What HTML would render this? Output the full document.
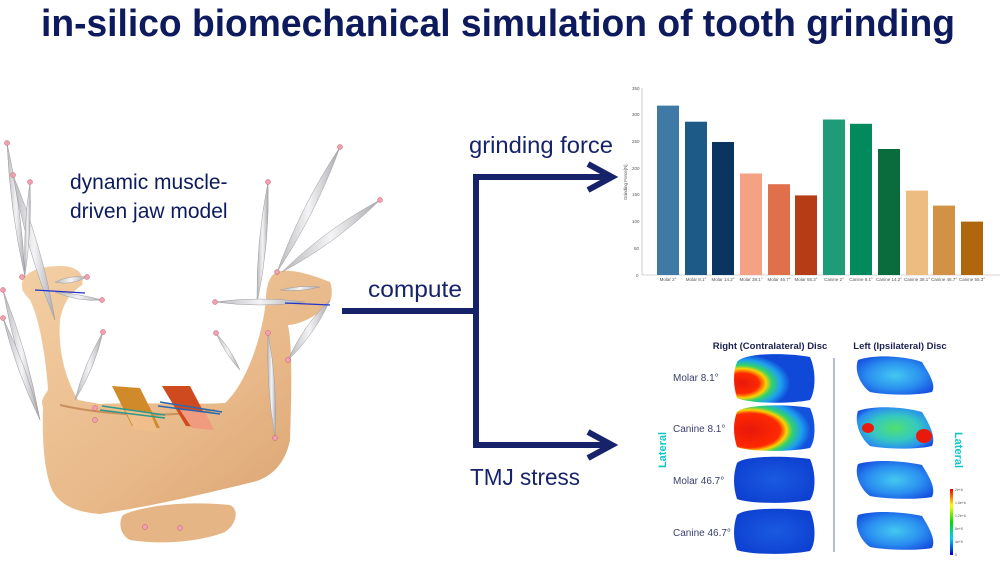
<!DOCTYPE html>
<html><head><meta charset="utf-8"><style>
html,body{margin:0;padding:0;background:#fff;}
svg{display:block;}
text{font-family:"Liberation Sans","DejaVu Sans",sans-serif;}
</style></head><body>
<svg width="1000" height="563" viewBox="0 0 1000 563" xmlns="http://www.w3.org/2000/svg">
<defs>
<linearGradient id="bone" x1="0" y1="0" x2="1" y2="1">
<stop offset="0" stop-color="#f3cfa4"/><stop offset="0.6" stop-color="#e8b888"/><stop offset="1" stop-color="#d9a06e"/></linearGradient>
<linearGradient id="spin" x1="0" y1="0" x2="1" y2="0">
<stop offset="0" stop-color="#b8b8bc"/><stop offset="0.5" stop-color="#f4f4f6"/><stop offset="1" stop-color="#a9a9ae"/></linearGradient>
<radialGradient id="hotR" cx="0.1" cy="0.6" r="0.6"><stop offset="0" stop-color="#e8170c"/><stop offset="0.35" stop-color="#ff2a00"/><stop offset="0.5" stop-color="#ffd000"/><stop offset="0.62" stop-color="#2fd36a"/><stop offset="0.8" stop-color="#1fa0f0"/><stop offset="1" stop-color="#1049d8"/></radialGradient>
<radialGradient id="hotR2" cx="0.2" cy="0.55" r="0.75"><stop offset="0" stop-color="#e8170c"/><stop offset="0.5" stop-color="#ff2a00"/><stop offset="0.6" stop-color="#ffd000"/><stop offset="0.7" stop-color="#2fd36a"/><stop offset="0.85" stop-color="#1fa0f0"/><stop offset="1" stop-color="#1352dc"/></radialGradient>
<radialGradient id="cool" cx="0.5" cy="0.5" r="0.6"><stop offset="0" stop-color="#1a5ae0"/><stop offset="1" stop-color="#0d3fd0"/></radialGradient>
<radialGradient id="mid" cx="0.5" cy="0.5" r="0.6"><stop offset="0" stop-color="#44c8f0"/><stop offset="0.6" stop-color="#2a8ef0"/><stop offset="1" stop-color="#1652e0"/></radialGradient>
<radialGradient id="midG" cx="0.5" cy="0.5" r="0.6"><stop offset="0" stop-color="#50e070"/><stop offset="0.5" stop-color="#35c8c0"/><stop offset="0.85" stop-color="#2a8ef0"/><stop offset="1" stop-color="#1652e0"/></radialGradient>
<linearGradient id="cbar" x1="0" y1="0" x2="0" y2="1"><stop offset="0" stop-color="#e00"/><stop offset="0.25" stop-color="#ff0"/><stop offset="0.5" stop-color="#0d0"/><stop offset="0.75" stop-color="#0cf"/><stop offset="1" stop-color="#00c"/></linearGradient>
</defs>

<text x="41" y="36" font-size="38" font-weight="bold" fill="#0d1a5e" textLength="914" lengthAdjust="spacingAndGlyphs">in-silico biomechanical simulation of tooth grinding</text>

<g>
<path d="M22,287 C20,275 35,266 60,266 C75,266 85,272 82,285 C72,292 64,300 60,320 C58,345 63,375 78,400 L100,404 C140,402 190,405 225,403 C245,385 262,340 266,300 C266,285 270,275 277,272 C290,268 310,274 330,282 C333,290 332,300 328,305 C318,315 300,325 288,325 C292,345 292,380 290,440 C285,465 270,478 253,482 C220,490 160,505 100,514 C75,512 60,505 52,490 C44,470 42,440 43,407 C40,400 45,395 48,390 C46,360 40,320 30,300 C26,295 22,292 22,287 Z" fill="url(#bone)"/>
<path d="M123,515 C140,507 180,500 230,505 C240,510 236,525 225,532 C200,542 160,545 130,540 C120,535 118,522 123,515 Z" fill="#e6b585"/>
<path d="M60,405 C90,412 150,420 215,410" stroke="#c9905e" stroke-width="2" fill="none"/>
</g>
<g fill="url(#spin)" stroke="#9c9ca0" stroke-width="0.5">
<path d="M7,143 Q22,209 25,277 Q10,211 7,143Z"/>
<path d="M13,175 Q42,245 55,320 Q26,250 13,175Z"/>
<path d="M30,182 Q32,229 25,275 Q23,228 30,182Z"/>
<path d="M3,290 Q28,353 40,420 Q15,357 3,290Z"/>
<path d="M3,318 Q27,367 40,420 Q16,371 3,318Z"/>
<path d="M103,332 Q95,368 75,400 Q84,364 103,332Z"/>
<path d="M340,147 Q316,213 277,272 Q301,206 340,147Z"/>
<path d="M268,182 Q270,243 257,303 Q256,242 268,182Z"/>
<path d="M380,200 Q336,243 282,272 Q326,229 380,200Z"/>
<path d="M215,302 Q260,296 305,302 Q260,308 215,302Z"/>
<path d="M268,333 Q278,385 275,438 Q266,386 268,333Z"/>
<path d="M330,300 Q315,334 288,360 Q303,326 330,300Z"/>
<path d="M216,333 Q231,349 240,370 Q225,354 216,333Z"/>
<path d="M55,282 Q70,275 87,277 Q70,286 55,282Z"/>
<path d="M55,292 Q80,294 102,300 Q78,302 55,292Z"/>
<path d="M280,290 Q300,285 320,287 Q300,292 280,290Z"/>
</g>
<polygon points="112,386 140,388 160,428 132,426" fill="#d08a2a"/>
<polygon points="125,410 150,412 158,432 135,430" fill="#efbe8a"/>
<polygon points="162,386 190,386 212,428 186,426" fill="#d04a20"/>
<polygon points="180,410 205,412 214,430 192,428" fill="#f09a80"/>
<path d="M102,406 L165,415 M100,410 L165,418" stroke="#2a9a8a" stroke-width="1.5"/>
<path d="M160,402 L222,412 M158,406 L220,414" stroke="#2a6ab0" stroke-width="1.5"/>
<path d="M35,290 L85,293 M285,303 L330,305" stroke="#2233cc" stroke-width="1.2"/>
<g fill="#f0a0b0" stroke="#c06070" stroke-width="0.5">
<circle cx="7" cy="143" r="2.5"/><circle cx="13" cy="175" r="2.5"/><circle cx="30" cy="182" r="2.5"/>
<circle cx="3" cy="290" r="2.5"/><circle cx="3" cy="318" r="2.5"/><circle cx="103" cy="332" r="2.5"/>
<circle cx="340" cy="147" r="2.5"/><circle cx="268" cy="182" r="2.5"/><circle cx="380" cy="200" r="2.5"/>
<circle cx="215" cy="302" r="2.5"/><circle cx="268" cy="333" r="2.5"/><circle cx="288" cy="360" r="2.5"/>
<circle cx="216" cy="333" r="2.5"/><circle cx="275" cy="438" r="2.5"/><circle cx="277" cy="272" r="2.5"/>
<circle cx="22" cy="277" r="2.5"/><circle cx="87" cy="277" r="2.5"/><circle cx="102" cy="300" r="2.5"/>
<circle cx="95" cy="408" r="2.5"/><circle cx="95" cy="420" r="2.5"/><circle cx="145" cy="527" r="2.5"/><circle cx="180" cy="528" r="2.5"/>
</g>
<text x="70" y="189" font-size="21" fill="#0d1a5e">dynamic muscle-</text>
<text x="70" y="218" font-size="21" fill="#0d1a5e">driven jaw model</text>

<g stroke="#16236b" stroke-width="6" fill="none" stroke-linejoin="miter">
<path d="M342,311 L476,311"/>
<path d="M476,177 L476,445 M473,177 L610,177 M473,445 L610,445"/>
<path d="M588,164 L612,177 L588,190"/>
<path d="M588,432 L612,445 L588,458"/>
</g>
<text x="469" y="153" font-size="23" fill="#16236b" textLength="144" lengthAdjust="spacingAndGlyphs">grinding force</text>
<text x="368" y="297" font-size="23" fill="#16236b" textLength="94" lengthAdjust="spacingAndGlyphs">compute</text>
<text x="470" y="485" font-size="23" fill="#16236b" textLength="110" lengthAdjust="spacingAndGlyphs">TMJ stress</text>

<g font-size="4.5" fill="#555">
<line x1="642" y1="88" x2="642" y2="275" stroke="#aaa" stroke-width="0.6"/>
<line x1="642" y1="275" x2="1000" y2="275" stroke="#aaa" stroke-width="0.6"/>
<text x="632" y="90">350</text><text x="632" y="116">300</text><text x="632" y="143">250</text><text x="632" y="170">200</text><text x="632" y="196">150</text><text x="632" y="223">100</text><text x="634" y="250">50</text><text x="636" y="277">0</text>
<text x="627" y="200" transform="rotate(-90 627 200)">Grinding Force[N]</text>
</g>
<g>
<rect x="657" y="105.6" width="22" height="169.4" fill="#3f7aa6"/>
<rect x="685" y="121.7" width="22" height="153.3" fill="#1e5a87"/>
<rect x="712" y="142" width="22" height="133" fill="#0a3560"/>
<rect x="740" y="173.5" width="22" height="101.5" fill="#f4a283"/>
<rect x="768" y="184.2" width="22" height="90.8" fill="#e0704c"/>
<rect x="795" y="195.4" width="22" height="79.6" fill="#b63c16"/>
<rect x="823" y="119.5" width="22" height="155.5" fill="#1f9b7a"/>
<rect x="850" y="123.8" width="22" height="151.2" fill="#028a5c"/>
<rect x="878" y="149" width="22" height="126" fill="#0a6c3c"/>
<rect x="906" y="190.6" width="22" height="84.4" fill="#edbd80"/>
<rect x="933" y="205.6" width="22" height="69.4" fill="#d29245"/>
<rect x="961" y="221.6" width="22" height="53.4" fill="#b0660c"/>
</g>
<g font-size="4.5" fill="#555" text-anchor="middle">
<text x="668" y="281">Molar 2°</text><text x="696" y="281">Molar 8.1°</text><text x="723" y="281">Molar 14.2°</text><text x="751" y="281">Molar 38.1°</text><text x="779" y="281">Molar 46.7°</text><text x="806" y="281">Molar 55.3°</text>
<text x="834" y="281">Canine 2°</text><text x="861" y="281">Canine 8.1°</text><text x="889" y="281">Canine 14.2°</text><text x="917" y="281">Canine 38.1°</text><text x="944" y="281">Canine 46.7°</text><text x="972" y="281">Canine 55.3°</text>
</g>

<text x="770" y="349" font-size="9.5" font-weight="bold" fill="#1a2050" text-anchor="middle">Right (Contralateral) Disc</text>
<text x="900" y="349" font-size="9.5" font-weight="bold" fill="#1a2050" text-anchor="middle">Left (Ipsilateral) Disc</text>
<line x1="834" y1="358" x2="834" y2="552" stroke="#8890b0" stroke-width="1.2"/>
<g font-size="10" fill="#3a4070">
<text x="673" y="381">Molar 8.1°</text><text x="673" y="432">Canine 8.1°</text><text x="673" y="484">Molar 46.7°</text><text x="673" y="536">Canine 46.7°</text>
</g>
<text x="666" y="450" font-size="11" font-weight="bold" fill="#10c8c8" text-anchor="middle" transform="rotate(-90 666 450)">Lateral</text>
<text x="955" y="450" font-size="11" font-weight="bold" fill="#10c8c8" text-anchor="middle" transform="rotate(90 955 450)">Lateral</text>
<path d="M737,362 C745,352 790,353 810,357 C816,370 816,390 810,400 C790,404 750,404 737,398 C733,385 733,372 737,362Z" fill="url(#hotR)"/>
<path d="M737,412 C745,404 790,404 810,408 C816,420 816,440 810,448 C790,452 750,452 737,447 C733,435 733,422 737,412Z" fill="url(#hotR2)"/>
<path d="M737,463 C745,455 790,456 810,459 C816,472 816,492 810,500 C790,504 750,504 737,499 C733,487 733,474 737,463Z" fill="url(#cool)"/>
<path d="M737,515 C745,507 790,508 810,511 C816,524 816,544 810,551 C790,555 750,555 737,550 C733,539 733,526 737,515Z" fill="url(#cool)"/>
<path d="M858,360 C875,354 905,356 922,362 C930,375 936,385 932,392 C915,396 885,395 870,392 C860,385 854,370 858,360Z" fill="url(#mid)"/>
<path d="M858,411 C875,405 905,407 922,412 C930,425 936,437 932,446 C915,450 885,449 870,446 C860,438 854,422 858,411Z" fill="url(#midG)"/>
<ellipse cx="868" cy="428" rx="6" ry="5" fill="#e81a0c"/><ellipse cx="924" cy="436" rx="8" ry="7" fill="#e81a0c"/>
<path d="M858,464 C875,459 905,461 922,465 C930,478 936,488 932,497 C915,500 885,499 870,496 C860,489 854,474 858,464Z" fill="url(#mid)"/>
<path d="M858,515 C875,510 905,512 922,516 C930,529 936,540 932,548 C915,551 885,550 870,547 C860,540 854,526 858,515Z" fill="url(#mid)"/>
<rect x="950" y="489" width="3" height="66" fill="url(#cbar)"/>
<g font-size="3.5" fill="#555"><text x="955" y="491">2e+6</text><text x="955" y="504">1.6e+6</text><text x="955" y="517">1.2e+6</text><text x="955" y="530">8e+5</text><text x="955" y="543">4e+5</text><text x="955" y="556">0</text></g>
</svg>
</body></html>
